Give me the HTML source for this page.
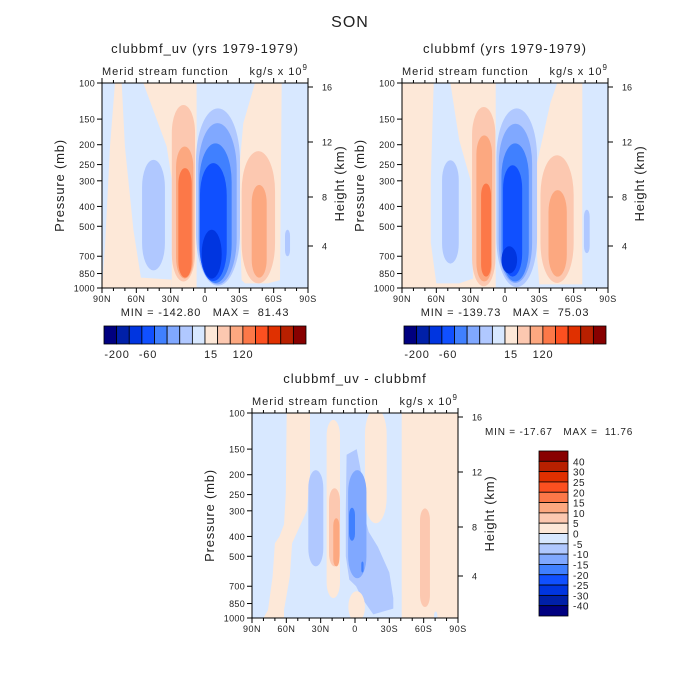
<!DOCTYPE html>
<html><head><meta charset="utf-8">
<style>
html,body{margin:0;padding:0;background:#fff;}
svg{display:block;font-family:"Liberation Sans","DejaVu Sans",sans-serif;}
text{fill:#222;white-space:pre;}
</style></head>
<body>
<svg id="chart" width="700" height="700" viewBox="0 0 700 700">
<text x="350" y="27" font-size="16" text-anchor="middle" letter-spacing="1">SON</text>
</svg>
<script>
// color levels (16 bins)
const palette = ["#000080","#0020a8","#0035e0","#1050ff","#4080ff","#80a8ff","#b0c8ff","#d8e8ff","#fde8d8","#fcc8b0","#fca880","#fc7848","#fc5020","#e03000","#b82000","#880000"];
const pressureTicks = [100,150,200,250,300,400,500,700,850,1000];
const latTicks = [90,60,30,0,-30,-60,-90];
const latLabels = ["90N","60N","30N","0","30S","60S","90S"];
const heightTicks = ["16","12","8","4"];
const heightOffsets = [4,59,114,163];
const topBarLabels = ["-200","-60","15","120"];
const diffBarLabels = ["40","30","25","20","15","10","5","0","-5","-10","-15","-20","-25","-30","-40"];
// region polygons: {c: colorIndex, pts: [[lat,pressure],...]}
const polysA = [
 {c:8,pts:[[78.6,100],[72.8,100],[70,204],[62.6,520],[56,890],[29,910],[29,1000],[90,1000],[87.4,628],[83,204]]},
 {c:8,pts:[[53.9,100],[7.3,100],[7.3,1000],[29,1000],[29,297],[33.5,204]]},
 {c:8,pts:[[-43.7,100],[-67,100],[-65.5,915],[-55,950],[-35,950],[-32,915],[-29.1,297],[-33.5,157]]}
];
// blobs: [latLeft, latRight, pTop, pBottom, colorIndex]
const blobsA = [
 [55,35,237,820,6],
 [29,8.7,128,930,9],[25.3,10.2,204,900,10],[23.3,11.6,260,890,11],
 [7.9,-30.6,133,975,6],[5.8,-27.7,157,960,5],[5,-23.3,197,945,4],[4.4,-19,246,925,3],[2.9,-14.6,520,900,2],
 [-32,-61.2,215,950,9],[-40.8,-53.9,314,890,10],[-69.9,-74.3,520,700,6]
];
const polysB = [
 {c:8,pts:[[90,100],[8.1,100],[8.1,1000],[90,1000]]},
 {c:7,pts:[[62.3,100],[47.7,100],[40,190],[30,300],[28,900],[40,950],[60,950],[64.8,600],[64.8,300]]},
 {c:8,pts:[[-45.6,100],[-67.5,100],[-67.5,960],[-30,960],[-28,700],[-28,246],[-39.7,125]]}
];
const blobsB = [
 [55,40.4,238,760,6],
 [28.8,8.4,131,980,9],[25,11.3,180,930,10],[20.9,12.2,309,880,11],
 [7.5,-28,133,990,6],[5.5,-23.7,158,945,5],[3.1,-20.8,197,930,4],[1.7,-15,252,880,3],[3.1,-10.6,626,850,2],
 [-31,-60,225,945,9],[-38,-54,333,880,10],[-69,-74,415,676,6]
];
const polysC = [
 {c:8,pts:[[59.7,100],[39.3,100],[39.3,200],[42,300],[55,432],[57,628],[62,915],[62,1000],[80,1000],[76,915],[72,628],[70,432],[66,400],[62,350],[60.5,250]]},
 {c:8,pts:[[-40.8,100],[-90,100],[-90,1000],[-40.8,1000]]},
 {c:6,pts:[[7.3,160],[-1.5,150],[-5,190],[-7,300],[-12,380],[-20,450],[-30,600],[-33.5,800],[-33.5,900],[-16,960],[-6,800],[-1,700],[5,650],[8,500],[8,300]]}
];
const blobsC = [
 [24.8,13.1,108,800,8],[22.7,13.1,233,560,9],[19,13.7,326,560,10],
 [-8.7,-27.7,95,345,8],[-56.8,-65.5,292,884,9],[5.8,-8.7,740,1050,8],
 [40.8,27.7,190,560,6],[6,-10,190,640,5],[5.2,0,290,420,4],[-5.5,-7.5,530,600,4],
 [-69,-72,930,1050,7]
];
const NS="http://www.w3.org/2000/svg";
const svg=document.getElementById('chart');
function el(tag,attrs,parent){const e=document.createElementNS(NS,tag);for(const k in attrs)e.setAttribute(k,attrs[k]);(parent||svg).appendChild(e);return e;}
function txt(x,y,s,size,anchor,parent,ls){const t=el('text',{x:x,y:y,'font-size':size,'text-anchor':anchor||'middle','letter-spacing':ls||0},parent);t.textContent=s;return t;}

function panel(id,L,T,polys,blobs,title,showMinMax){
 const W=206,H=205;
 const xs=lat=>L+(90-lat)/180*W;
 const ys=p=>T+Math.log10(p/100)*H;
 const g=el('g',{});
 
 
 const clip=el('clipPath',{id:id+'-clip'},g);
 el('rect',{x:L,y:T,width:W,height:H},clip);
 const fg=el('g',{'clip-path':'url(#'+id+'-clip)'},g);
 const bg=el('rect',{x:L,y:T,width:W,height:H,fill:palette[7]},fg);
 
 
 polys.forEach(pg=>{
  const pts=pg.pts.map(q=>xs(q[0]).toFixed(1)+','+ys(q[1]).toFixed(1)).join(' ');
  const r=el('polygon',{points:pts,fill:palette[pg.c],'stroke-linejoin':'round'},fg);
  
  
 });
 blobs.forEach(l=>{
  const x1=xs(l[0]),x2=xs(l[1]),y1=ys(l[2]),y2=ys(l[3]);
  const w=x2-x1,h=y2-y1;
  const r=el('rect',{x:x1,y:y1,width:w,height:h,rx:w/2,ry:Math.min(h/2,w*1.2),fill:palette[l[4]]},fg);
  
  
 });
 const fr=el('rect',{x:L,y:T,width:W,height:H,fill:'none',stroke:'#000','stroke-width':1},g);
 
 
 for(let lat=90;lat>=-90;lat-=10){
  const x=xs(lat),maj=lat%30===0;
  el('line',{x1:x,x2:x,y1:T+H,y2:T+H+(maj?5:3),stroke:'#000'},g);
  el('line',{x1:x,x2:x,y1:T,y2:T-(maj?5:3),stroke:'#000'},g);
 }
 latTicks.forEach((lat,i)=>{const t=txt(xs(lat),T+H+14,latLabels[i],9,'middle',g,0.5);
  });
 pressureTicks.forEach(p=>{const y=ys(p);
  el('line',{x1:L,x2:L-5,y1:y,y2:y,stroke:'#000'},g);
  const t=txt(L-7,y+3.5,String(p),9,'end',g,0.3);
  });
 heightTicks.forEach((h,i)=>{const y=T+heightOffsets[i];
  el('line',{x1:L+W,x2:L+W+5,y1:y,y2:y,stroke:'#000'},g);
  const t=txt(L+W+14,y+3.5,h,9,'start',g);
  });
 const tt=txt(L+W/2,T-30,title,13,'middle',g,1);
 
 const st=txt(L,T-8,'Merid stream function',11,'start',g,1);
 
 const un=el('text',{x:L+W,y:T-8,'font-size':11,'text-anchor':'end','letter-spacing':1},g);
 un.innerHTML='kg/s x 10<tspan dy="-5" font-size="8">9</tspan>';
 
 const yl=el('text',{transform:'translate('+(L-38)+','+(T+H/2)+') rotate(-90)','font-size':13,'text-anchor':'middle','letter-spacing':0.8},g);
 yl.textContent='Pressure (mb)';
 
 const hl=el('text',{transform:'translate('+(L+W+36)+','+(T+H/2-2)+') rotate(-90)','font-size':13,'text-anchor':'middle','letter-spacing':0.8},g);
 hl.textContent='Height (km)';
 
 if(showMinMax){const m=txt(L+W/2,T+H+28,showMinMax,11,'middle',g,0.8);
  }
}
function hbar(L,T){
 const g=el('g',{});
 
 
 const bw=202/16;
 palette.forEach((c,i)=>{const r=el('rect',{x:L+i*bw,y:T,width:bw,height:18,fill:c,stroke:'#000','stroke-width':0.8},g);
  });
 const off=[13,44,107,139];
 topBarLabels.forEach((s,i)=>{const t=txt(L+off[i],T+32,s,11,'middle',g,0.8);
  });
}
panel('left',102,83,polysA,blobsA,'clubbmf_uv (yrs 1979-1979)','MIN = -142.80   MAX =  81.43');
panel('right',402,83,polysB,blobsB,'clubbmf (yrs 1979-1979)','MIN = -139.73   MAX =  75.03');
panel('diff',252,413,polysC,blobsC,'clubbmf_uv - clubbmf',null);
hbar(104,326);hbar(404,326);
(function(){
 const g=el('g',{});
 
 
 const L=539,T=451,bh=165/16;
 for(let i=0;i<16;i++){const r=el('rect',{x:L,y:T+i*bh,width:29,height:bh,fill:palette[15-i],stroke:'#000','stroke-width':0.8},g);
  }
 diffBarLabels.forEach((s,i)=>{const t=txt(L+34,T+(i+1)*bh+4,s,10,'start',g,0.5);
  });
 const m=txt(485,435,'MIN = -17.67   MAX =  11.76',10,'start',g,0.8);
 
})();
</script>
</body></html>
